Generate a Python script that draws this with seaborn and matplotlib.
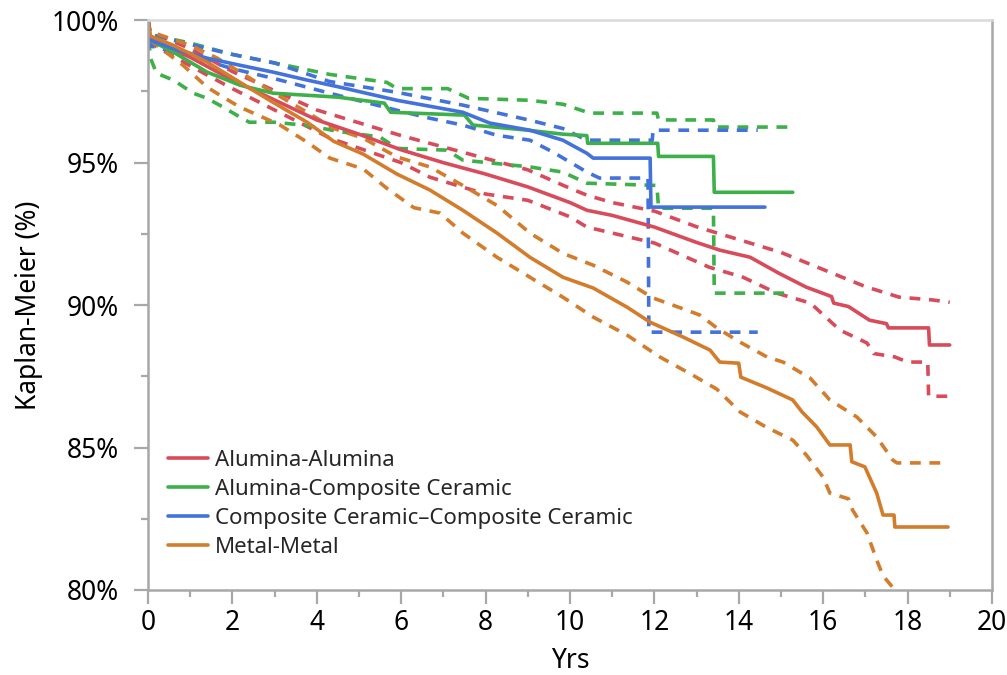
import matplotlib
matplotlib.use("Agg")
import matplotlib.pyplot as plt
import seaborn as sns
import numpy as np
from matplotlib.ticker import MultipleLocator, FuncFormatter
from matplotlib.lines import Line2D

# ---------------- data (years, survival %) ----------------
series_names = ["Alumina-Alumina", "Alumina-Composite Ceramic",
                "Composite Ceramic\u2013Composite Ceramic", "Metal-Metal"]
series_colors = ["#d84b5b", "#3db04a", "#4472db", "#d27c2c"]

# Alumina-Alumina
aa_t = [0, 0.05, 0.5, 1, 2, 3, 4, 5, 6, 7, 8, 9, 10, 10.4, 11, 12, 13, 13.55, 14.27, 14.95,
        15.6, 16.2, 16.25, 16.6, 17.1, 17.5, 17.55, 18.5, 18.52, 19.0]
aa_est = [100, 99.4, 99.05, 98.7, 97.9, 97.2, 96.5, 96.0, 95.45, 95.0, 94.6, 94.15, 93.6, 93.33,
          93.15, 92.74, 92.2, 91.93, 91.68, 91.12, 90.63, 90.3, 90.07, 89.95, 89.47, 89.35,
          89.2, 89.2, 88.6, 88.6]
aa_up_t = [0, 0.05, 1, 2, 4, 6, 7, 8, 9, 10, 10.4, 11, 12, 13, 14, 15, 16, 17, 17.8, 18.6, 19.0]
aa_up = [100, 99.6, 99.0, 98.2, 96.85, 95.95, 95.55, 95.15, 94.75, 94.1, 93.86, 93.6, 93.3,
         92.75, 92.3, 91.85, 91.25, 90.65, 90.28, 90.18, 90.1]
aa_lo_t = [0, 0.05, 1, 2, 4, 4.31, 6, 6.68, 8, 9.0, 10, 10.4, 12, 13.3, 14.1, 14.9, 15.7,
           16.4, 17.04, 17.2, 17.7, 18.0, 18.48, 18.5, 19.0]
aa_lo = [100, 99.2, 98.4, 97.6, 96.1, 95.86, 95.0, 94.49, 93.9, 93.68, 93.1, 92.74, 92.18,
         91.33, 90.98, 90.42, 90.07, 89.12, 88.67, 88.3, 88.18, 88.0, 88.0, 86.8, 86.8]

# Alumina-Composite Ceramic
ac_t = [0, 0.05, 0.6, 1.4, 2.18, 2.96, 4.5, 5.6, 5.75, 7.5, 7.7, 9.0, 9.84, 10.4, 10.42,
        12.08, 12.1, 13.4, 13.42, 15.28]
ac_est = [100, 99.3, 98.88, 98.18, 97.72, 97.44, 97.3, 97.09, 96.77, 96.67, 96.32, 96.14,
          96.0, 95.95, 95.68, 95.68, 95.22, 95.22, 93.96, 93.96]
ac_up_t = [0, 0.05, 1, 2, 3, 4.3, 5.66, 5.9, 7.1, 7.6, 9.05, 9.84, 10.47, 12.06, 12.1,
           13.4, 13.42, 15.28]
ac_up = [100, 99.5, 99.2, 98.8, 98.5, 98.1, 97.82, 97.6, 97.6, 97.26, 97.19, 97.05, 96.74,
         96.74, 96.5, 96.5, 96.25, 96.25]
ac_lo_t = [0, 0.05, 0.2, 0.6, 1.07, 1.4, 1.78, 2.18, 2.4, 3.0, 3.8, 4.5, 5.5, 5.9, 7.08,
           7.46, 9.05, 9.83, 10.4, 12.06, 12.1, 13.4, 13.42, 15.28]
ac_lo = [100, 98.7, 98.14, 97.9, 97.44, 97.26, 96.95, 96.6, 96.42, 96.42, 96.3, 96.1, 95.9,
         95.5, 95.44, 95.09, 94.85, 94.67, 94.28, 94.2, 93.4, 93.4, 90.42, 90.42]

# Composite Ceramic-Composite Ceramic
cc_t = [0, 0.05, 0.6, 1.4, 2.18, 2.96, 3.77, 4.55, 5.9, 7.46, 8.1, 9.05, 9.83, 10.4, 10.55,
        11.9, 11.92, 14.62]
cc_est = [100, 99.3, 99.0, 98.67, 98.42, 98.18, 97.9, 97.65, 97.19, 96.77, 96.39, 96.14,
          95.79, 95.33, 95.16, 95.16, 93.44, 93.44]
cc_up_t = [0, 0.05, 1, 2, 3, 4.3, 5.9, 7.46, 9.05, 9.83, 10.4, 11.95, 11.97, 14.45]
cc_up = [100, 99.5, 99.15, 98.8, 98.5, 97.85, 97.47, 97.02, 96.49, 96.2, 95.79, 95.79,
         96.14, 96.14]
cc_lo_t = [0, 0.05, 1, 2, 3, 4.3, 5.9, 6.68, 7.46, 8.27, 9.05, 9.6, 10.4, 10.7, 11.85,
           11.87, 14.45]
cc_lo = [100, 99.1, 98.75, 98.3, 97.95, 97.44, 96.84, 96.56, 96.32, 95.96, 95.79, 95.37,
         94.67, 94.46, 94.46, 89.05, 89.05]

# Metal-Metal
mm_t = [0, 0.05, 0.6, 1.4, 2.18, 2.96, 3.77, 4.4, 5.1, 5.9, 6.68, 7.46, 8.27, 9.05, 9.83,
        10.55, 11.35, 11.9, 12.68, 13.32, 13.55, 14.0, 14.05, 14.67, 15.28, 15.5, 15.85,
        16.16, 16.64, 16.68, 16.99, 17.27, 17.42, 17.68, 17.7, 18.96]
mm_est = [100, 99.45, 99.12, 98.53, 97.82, 97.12, 96.42, 95.75, 95.3, 94.6, 94.04, 93.33,
          92.53, 91.68, 90.98, 90.6, 89.93, 89.4, 88.88, 88.42, 88.0, 87.96, 87.47, 87.09,
          86.67, 86.25, 85.72, 85.09, 85.09, 84.5, 84.32, 83.4, 82.63, 82.63, 82.21, 82.21]
mm_up_t = [0, 0.05, 1, 1.64, 2.18, 2.96, 3.77, 4.4, 5.1, 5.9, 6.68, 7.46, 8.27, 9.05, 9.83,
           10.55, 11.35, 11.97, 12.77, 13.08, 13.48, 14.03, 14.67, 15.05, 15.69, 16.16,
           16.8, 17.27, 17.65, 17.75, 18.96]
mm_up = [100, 99.6, 99.12, 98.67, 98.18, 97.47, 96.77, 96.2, 95.86, 95.2, 94.85, 94.2,
         93.5, 92.53, 91.82, 91.4, 90.81, 90.25, 89.82, 89.65, 89.2, 88.7, 88.18, 88.0,
         87.44, 86.67, 86.07, 85.37, 84.56, 84.46, 84.46]
mm_lo_t = [0, 0.05, 0.83, 1.4, 1.78, 2.18, 3.13, 3.77, 4.31, 5.1, 5.66, 6.3, 6.92, 7.46,
           8.27, 9.05, 9.83, 10.55, 11.35, 12.13, 12.91, 13.48, 14.03, 14.67, 15.28, 15.6,
           16.0, 16.16, 16.6, 16.7, 17.04, 17.27, 17.42, 17.7]
mm_lo = [100, 99.3, 98.42, 97.65, 97.3, 96.95, 96.32, 95.72, 95.16, 94.78, 94.1, 93.42,
         93.23, 92.53, 91.68, 90.98, 90.28, 89.58, 88.95, 88.18, 87.54, 87.05, 86.25, 85.7,
         85.26, 84.74, 83.96, 83.4, 83.2, 82.8, 82.0, 81.05, 80.5, 80.0]

x_ticks = [0, 2, 4, 6, 8, 10, 12, 14, 16, 18, 20]
y_ticks = [80, 85, 90, 95, 100]

# ---------------- plotting ----------------
sns.set_theme(style="white")
plt.rcParams["font.family"] = ["Noto Sans", "DejaVu Sans"]

fig = plt.figure(figsize=(10.07, 6.75), dpi=100)
ax = fig.add_axes([0.147, 0.126, 0.838, 0.844])

curves = [
    (aa_t, aa_est, aa_up_t, aa_up, aa_lo_t, aa_lo),
    (ac_t, ac_est, ac_up_t, ac_up, ac_lo_t, ac_lo),
    (cc_t, cc_est, cc_up_t, cc_up, cc_lo_t, cc_lo),
    (mm_t, mm_est, mm_up_t, mm_up, mm_lo_t, mm_lo),
]
lw = 2.6
dash = (0, (3.0, 2.4))
handles = []
for (t, e, tu, u, tl, l), name, col in zip(curves, series_names, series_colors):
    sns.lineplot(x=tu, y=u, ax=ax, color=col, lw=lw, linestyle=dash, sort=False,
                 estimator=None, legend=False)
    sns.lineplot(x=tl, y=l, ax=ax, color=col, lw=lw, linestyle=dash, sort=False,
                 estimator=None, legend=False)
for (t, e, tu, u, tl, l), name, col in zip(curves, series_names, series_colors):
    sns.lineplot(x=t, y=e, ax=ax, color=col, lw=lw, sort=False,
                 estimator=None, legend=False)
    handles.append(Line2D([], [], color=col, lw=lw, label=name))

ax.set_xlim(0, 20)
ax.set_ylim(80, 100)
ax.set_xticks(x_ticks)
ax.set_yticks(y_ticks)
ax.xaxis.set_minor_locator(MultipleLocator(1))
ax.yaxis.set_minor_locator(MultipleLocator(2.5))
ax.yaxis.set_major_formatter(FuncFormatter(lambda v, p: f"{v:.0f}%"))

ax.tick_params(axis="both", which="major", direction="out", length=10, width=1.6,
               color="#a8a8a8", labelsize=19, labelcolor="black",
               bottom=True, left=True)
ax.tick_params(axis="x", which="major", pad=4)
ax.tick_params(axis="y", which="major", pad=11)
ax.tick_params(axis="both", which="minor", direction="out", length=5, width=1.6,
               color="#a8a8a8", bottom=True, left=True)

for side in ["left", "bottom", "right"]:
    ax.spines[side].set_color("#a8a8a8")
    ax.spines[side].set_linewidth(1.8)
ax.spines["top"].set_color("#d9d9d9")
ax.spines["top"].set_linewidth(1.8)

ax.set_xlabel("Yrs", fontsize=19, color="black", labelpad=7)
ax.set_ylabel("Kaplan-Meier (%)", fontsize=19, color="black", labelpad=6)

ax.legend(handles=handles, loc="lower left", bbox_to_anchor=(0.0, 0.021),
          frameon=False, fontsize=16, handlelength=1.8, handletextpad=0.3,
          labelspacing=0.36, borderaxespad=0.5)

fig.savefig("out.png", dpi=100)
